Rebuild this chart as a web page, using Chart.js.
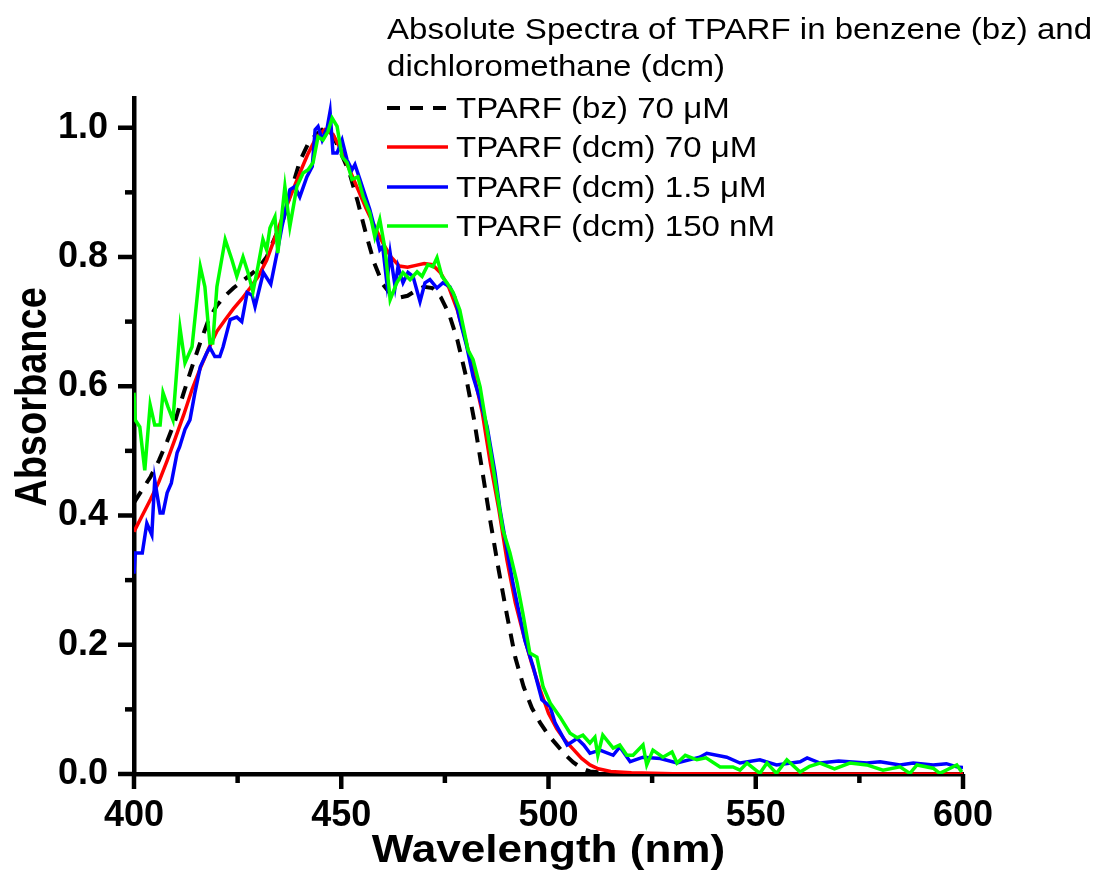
<!DOCTYPE html>
<html>
<head>
<meta charset="utf-8">
<script src="https://cdn.jsdelivr.net/npm/chart.js@4.4.1/dist/chart.umd.min.js"></script>
<style>
    html, body { margin: 0; padding: 0; background: #fff; }
    #wrap { width: 1107px; height: 877px; }
</style>
</head>
<body>
<div id="wrap"><canvas id="spectra" width="1107" height="877"></canvas></div>
<script>
// TPARF in benzene, 70 uM (dashed)
const bzWl = [400, 402, 404, 406, 408, 410, 412, 414, 416, 418, 420, 422, 424, 426, 428, 430, 432, 434, 436, 438,
    440, 442, 444, 446, 448, 450, 452, 454, 456, 458, 460, 462, 464, 466, 468, 470, 472, 474, 476, 478,
    480, 482, 484, 486, 488, 490, 492, 494, 496, 498, 500, 502, 504, 506, 508, 510, 515, 520, 560, 600];
const bzAbs = [0.42, 0.44, 0.46, 0.485, 0.515, 0.548, 0.59, 0.63, 0.668, 0.703, 0.725, 0.74, 0.752, 0.762, 0.772, 0.783, 0.80, 0.83, 0.858, 0.905,
    0.948, 0.975, 0.99, 1.0, 0.988, 0.96, 0.93, 0.885, 0.835, 0.79, 0.758, 0.742, 0.737, 0.74, 0.748, 0.754, 0.752, 0.738, 0.712, 0.672,
    0.618, 0.55, 0.47, 0.39, 0.315, 0.245, 0.18, 0.135, 0.102, 0.079, 0.06, 0.045, 0.03, 0.018, 0.009, 0.004, 0.001, 0, 0, 0];

// TPARF in dcm, 70 uM
const dcm70Wl = [400, 402, 404, 406, 408, 410, 412, 414, 416, 418, 420, 422, 424, 426, 428, 430, 432, 434, 436, 438,
    440, 442, 444, 446, 448, 450, 452, 454, 456, 458, 460, 462, 464, 466, 468, 470, 472, 474, 476, 478,
    480, 482, 484, 486, 488, 490, 492, 494, 496, 498, 500, 502, 504, 506, 508, 510, 512, 515, 520, 530, 560, 600];
const dcm70Abs = [0.375, 0.40, 0.425, 0.452, 0.485, 0.52, 0.556, 0.595, 0.628, 0.658, 0.685, 0.703, 0.72, 0.735, 0.752, 0.77, 0.795, 0.83, 0.865, 0.898,
    0.93, 0.96, 0.985, 0.997, 0.99, 0.965, 0.935, 0.905, 0.875, 0.848, 0.822, 0.80, 0.786, 0.784, 0.787, 0.79, 0.788, 0.775, 0.752, 0.718,
    0.672, 0.618, 0.56, 0.48, 0.41, 0.33, 0.265, 0.215, 0.17, 0.13, 0.094, 0.07, 0.052, 0.038, 0.024, 0.014, 0.008, 0.004, 0.002, 0.0005, 0, 0];

// TPARF in dcm, 1.5 uM
const dcm15Wl = [400, 400.3, 402, 403.1, 404.3, 405, 406.3, 407, 408, 409, 410.4, 411, 412.3, 413.5, 414.7, 416, 417.6, 418.3, 419.5, 420.7,
    421.5, 423.2, 424.8, 426, 427.3, 428.5, 429.2, 431.2, 433, 434.5, 435.7, 437.6, 438.8, 440, 441.7, 443, 443.7, 444.4, 445.4, 446.6,
    447.3, 448, 449, 450.2, 451.4, 452.6, 453.3, 454.5, 456.9, 458.6, 459.3, 460, 461, 461.8, 463, 463.7, 464.9, 466.1, 467.3, 469,
    470.2, 471.4, 473.1, 474.5, 476.2, 477.4, 478.6, 480.3, 481.8, 483.5, 485.2, 487.1, 488.3, 490, 491.4, 492.6, 494.3, 496.3, 498.4, 500.4,
    501.6, 504.5, 506.9, 508.5, 510, 512.4, 515.6, 517.2, 519.7, 522.8, 527, 531, 536.5, 538.2, 543, 546.2, 551, 555, 560.7, 562.4,
    565.5, 570, 576.8, 580, 584.8, 588, 592.8, 596, 598.5, 600];
const dcm15Abs = [0.31, 0.342, 0.342, 0.388, 0.37, 0.455, 0.404, 0.404, 0.435, 0.45, 0.497, 0.506, 0.533, 0.548, 0.59, 0.63, 0.652, 0.66, 0.646, 0.646,
    0.661, 0.703, 0.707, 0.70, 0.745, 0.741, 0.723, 0.776, 0.758, 0.806, 0.847, 0.904, 0.909, 0.893, 0.924, 0.94, 0.997, 1.002, 0.981, 1.0,
    1.025, 0.961, 0.961, 0.981, 0.95, 0.935, 0.943, 0.92, 0.873, 0.831, 0.811, 0.816, 0.76, 0.806, 0.754, 0.785, 0.76, 0.776, 0.77, 0.731,
    0.76, 0.765, 0.752, 0.76, 0.754, 0.738, 0.703, 0.661, 0.615, 0.579, 0.537, 0.466, 0.409, 0.347, 0.296, 0.259, 0.207, 0.166, 0.115, 0.104,
    0.079, 0.045, 0.055, 0.045, 0.032, 0.037, 0.029, 0.042, 0.019, 0.026, 0.024, 0.017, 0.026, 0.032, 0.026, 0.017, 0.022, 0.014, 0.019, 0.025,
    0.017, 0.02, 0.017, 0.019, 0.014, 0.017, 0.014, 0.016, 0.011, 0.01];

// TPARF in dcm, 150 nM
const dcm150Wl = [400, 400.3, 401.4, 402.6, 403.9, 405, 406.3, 407, 408.2, 409.4, 411.1, 412.3, 414, 416, 417.1, 418.3, 419, 420, 422, 423.6,
    424.8, 426.3, 427.5, 428.7, 429.9, 431.1, 432, 432.8, 434, 434.7, 436.4, 437.6, 439.3, 440.8, 442, 443.2, 444.4, 445.6, 446.8, 447.8,
    449, 450.2, 451.4, 452.6, 454, 455.3, 456.9, 458.1, 459.3, 460.6, 461.8, 463.4, 464.9, 466.6, 468.3, 469.5, 470.9, 472.1, 473.1, 474.3,
    475.5, 477, 478.6, 480.6, 481.8, 483.5, 485, 486, 487.6, 489, 490.7, 492.4, 493.8, 495.5, 497.2, 498.7, 500.4, 502.8, 505.2, 506.9,
    508.3, 510, 511.2, 511.9, 513.1, 515.6, 517.2, 518.9, 520.4, 522.8, 523.7, 525.2, 527.6, 529.8, 531, 533, 535.8, 538, 541.4, 544.5,
    546.2, 547.9, 551, 552.7, 555, 557.5, 560.7, 563, 565.5, 569, 572.7, 576.8, 580.7, 584.8, 587.2, 588.9, 592.8, 594.4, 598.5, 599.7];
const dcm150Abs = [0.59, 0.548, 0.537, 0.47, 0.571, 0.54, 0.54, 0.59, 0.568, 0.548, 0.69, 0.636, 0.661, 0.785, 0.754, 0.667, 0.667, 0.754, 0.827, 0.796,
    0.77, 0.80, 0.776, 0.746, 0.785, 0.827, 0.811, 0.845, 0.862, 0.806, 0.909, 0.847, 0.909, 0.93, 0.935, 0.946, 0.986, 0.981, 0.994, 1.015,
    1.002, 0.955, 0.946, 0.92, 0.924, 0.893, 0.868, 0.831, 0.858, 0.811, 0.734, 0.76, 0.776, 0.765, 0.777, 0.77, 0.788, 0.785, 0.799, 0.77,
    0.76, 0.745, 0.718, 0.656, 0.641, 0.599, 0.54, 0.50, 0.435, 0.378, 0.342, 0.296, 0.249, 0.187, 0.181, 0.135, 0.11, 0.088, 0.063, 0.056,
    0.06, 0.048, 0.057, 0.029, 0.06, 0.04, 0.045, 0.029, 0.029, 0.045, 0.014, 0.037, 0.026, 0.034, 0.017, 0.029, 0.022, 0.025, 0.011, 0.011,
    0.006, 0.017, 0.001, 0.017, 0.001, 0.022, 0.003, 0.012, 0.017, 0.008, 0.017, 0.014, 0.006, 0.011, 0.001, 0.014, 0.009, 0.001, 0.014, 0.003];

const xMajor = [400, 450, 500, 550, 600];
const xMinor = [425, 475, 525, 575];
const yMajor = [0, 0.2, 0.4, 0.6, 0.8, 1.0];
const yMinor = [0.1, 0.3, 0.5, 0.7, 0.9];

const legendTitle = ['Absolute Spectra of TPARF in benzene (bz) and', 'dichloromethane (dcm)'];
const seriesLabels = ['TPARF (bz) 70 \u03BCM', 'TPARF (dcm) 70 \u03BCM', 'TPARF (dcm) 1.5 \u03BCM', 'TPARF (dcm) 150 nM'];
const seriesColors = ['#000000', '#ff0000', '#0000ff', '#00ff00'];

function toPoints(wl, abs) {
    return wl.map((x, i) => ({ x: x, y: abs[i] }));
}

// outward tick marks, major and minor
const axisTicks = {
    id: 'axisTicks',
    afterDraw(chart) {
        const ctx = chart.ctx;
        const xs = chart.scales.x, ys = chart.scales.y;
        const left = chart.chartArea.left, bottom = chart.chartArea.bottom;
        ctx.save();
        ctx.strokeStyle = '#000';
        ctx.lineWidth = 4.5;
        const seg = (x1, y1, x2, y2) => { ctx.beginPath(); ctx.moveTo(x1, y1); ctx.lineTo(x2, y2); ctx.stroke(); };
        xMajor.forEach(v => { const p = xs.getPixelForValue(v); seg(p, bottom, p, bottom + 15); });
        xMinor.forEach(v => { const p = xs.getPixelForValue(v); seg(p, bottom, p, bottom + 9); });
        yMajor.forEach(v => { const p = ys.getPixelForValue(v); seg(left, p, left - 16, p); });
        yMinor.forEach(v => { const p = ys.getPixelForValue(v); seg(left, p, left - 9, p); });
        ctx.restore();
    }
};

// axis titles and legend block (text is slightly stretched like the original export)
const textBlock = {
    id: 'textBlock',
    afterDraw(chart) {
        const ctx = chart.ctx;
        const area = chart.chartArea;
        const stretch = 1.14;
        ctx.save();
        ctx.fillStyle = '#000';
        ctx.textBaseline = 'alphabetic';

        // x title
        ctx.font = 'bold 38px "Liberation Sans", Arial, sans-serif';
        ctx.textAlign = 'center';
        ctx.save();
        ctx.translate((area.left + area.right) / 2, 862);
        ctx.scale(1.16, 1);
        ctx.fillText('Wavelength (nm)', 0, 0);
        ctx.restore();

        // y title
        ctx.save();
        ctx.translate(46, 397);
        ctx.rotate(-Math.PI / 2);
        ctx.scale(1, 1.16);
        ctx.fillText('Absorbance', 0, 0);
        ctx.restore();

        // legend
        ctx.font = '29px "Liberation Sans", Arial, sans-serif';
        ctx.textAlign = 'left';
        const lx = 387;
        [39, 76].forEach((y, i) => {
            ctx.save();
            ctx.translate(lx, y);
            ctx.scale(stretch, 1);
            ctx.fillText(legendTitle[i], 0, 0);
            ctx.restore();
        });
        const rows = [118, 157, 197, 236];
        chart.data.datasets.forEach(ds => {
            const y = rows[ds.legendRow];
            ctx.save();
            ctx.strokeStyle = ds.borderColor;
            ctx.lineWidth = ds.borderWidth;
            ctx.setLineDash(ds.borderDash || []);
            ctx.beginPath();
            ctx.moveTo(lx, y - 10);
            ctx.lineTo(lx + 61, y - 10);
            ctx.stroke();
            ctx.restore();
            ctx.save();
            ctx.translate(lx + 69, y);
            ctx.scale(stretch, 1);
            ctx.fillText(ds.label, 0, 0);
            ctx.restore();
        });
        ctx.restore();
    }
};

const ctx = document.getElementById('spectra').getContext('2d');
new Chart(ctx, {
    type: 'line',
    data: {
        datasets: [
            {
                label: seriesLabels[0], legendRow: 0, order: 4,
                data: toPoints(bzWl, bzAbs),
                borderColor: seriesColors[0], borderWidth: 4, borderDash: [13, 10]
            },
            {
                label: seriesLabels[1], legendRow: 1, order: 3,
                data: toPoints(dcm70Wl, dcm70Abs),
                borderColor: seriesColors[1], borderWidth: 3.5
            },
            {
                label: seriesLabels[2], legendRow: 2, order: 2,
                data: toPoints(dcm15Wl, dcm15Abs),
                borderColor: seriesColors[2], borderWidth: 3.5
            },
            {
                label: seriesLabels[3], legendRow: 3, order: 1,
                data: toPoints(dcm150Wl, dcm150Abs),
                borderColor: seriesColors[3], borderWidth: 3.5
            }
        ]
    },
    options: {
        responsive: false,
        animation: false,
        devicePixelRatio: 1,
        elements: {
            point: { radius: 0 },
            line: { tension: 0, fill: false }
        },
        layout: {
            padding: { top: 98, right: 144, bottom: 0, left: 0 }
        },
        plugins: {
            legend: { display: false },
            tooltip: { enabled: false }
        },
        scales: {
            x: {
                type: 'linear',
                min: 400,
                max: 600,
                afterBuildTicks: scale => { scale.ticks = xMajor.map(v => ({ value: v })); },
                afterFit: scale => { scale.height = 103; },
                grid: { display: false, drawTicks: false },
                border: { display: true, color: '#000', width: 4.5 },
                ticks: {
                    color: '#000',
                    padding: 20,
                    maxRotation: 0,
                    font: { family: '"Liberation Sans", Arial, sans-serif', size: 36, weight: 'bold' }
                }
            },
            y: {
                type: 'linear',
                min: 0,
                max: 1.046,
                afterBuildTicks: scale => { scale.ticks = yMajor.map(v => ({ value: v })); },
                afterFit: scale => { scale.width = 134; },
                grid: { display: false, drawTicks: false },
                border: { display: true, color: '#000', width: 4.5 },
                ticks: {
                    color: '#000',
                    padding: 26,
                    font: { family: '"Liberation Sans", Arial, sans-serif', size: 36, weight: 'bold' },
                    callback: v => v.toFixed(1)
                }
            }
        }
    },
    plugins: [axisTicks, textBlock]
});
</script>
</body>
</html>
